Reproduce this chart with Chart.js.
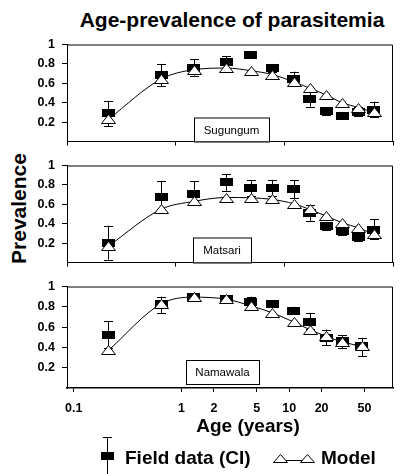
<!DOCTYPE html>
<html>
<head>
<meta charset="utf-8">
<script src="https://cdn.jsdelivr.net/npm/chart.js@4.4.1/dist/chart.umd.min.js"></script>
<style>
  body { margin: 0; background: #fff; }
  #wrap { position: relative; width: 400px; height: 474px; overflow: hidden; font-family: 'Liberation Sans', Arial, sans-serif; color: #000; }
  canvas { position: absolute; left: 0; }
  .txt { position: absolute; font-weight: bold; white-space: nowrap; }
</style>
</head>
<body>
<div id="wrap">
  <div class="txt" style="left:32px;top:9px;width:400px;text-align:center;font-size:21px;line-height:21px;">Age-prevalence of parasitemia</div>
  <div class="txt" style="left:-82px;top:198px;width:200px;height:21px;text-align:center;font-size:21px;line-height:21px;transform:rotate(-90deg);">Prevalence</div>
  <canvas id="c1" width="400" height="126" style="top:30px"></canvas>
  <canvas id="c2" width="400" height="126" style="top:151px"></canvas>
  <canvas id="c3" width="400" height="144" style="top:272px"></canvas>
  <div class="txt" style="left:48px;top:416px;width:400px;text-align:center;font-size:19px;line-height:19px;">Age (years)</div>
  <svg style="position:absolute;left:0;top:0" width="400" height="474">
    <line x1="107.5" y1="437" x2="107.5" y2="474" stroke="#000" stroke-width="1"/>
    <line x1="103" y1="437.5" x2="112" y2="437.5" stroke="#000" stroke-width="1"/>
    <rect x="101" y="452" width="13" height="8" fill="#000"/>
    <line x1="280" y1="460.5" x2="307" y2="460.5" stroke="#000" stroke-width="1"/>
    <path d="M273.5 462.5 L280.5 454.5 L287.5 462.5 Z" fill="#fff" stroke="#000" stroke-width="1"/>
    <path d="M300.5 462.5 L307.5 454.5 L314.5 462.5 Z" fill="#fff" stroke="#000" stroke-width="1"/>
  </svg>
  <div class="txt" style="left:125px;top:448px;font-size:19px;line-height:19px;">Field data (CI)</div>
  <div class="txt" style="left:321px;top:448px;font-size:19px;line-height:19px;">Model</div>
</div>
<script>
// ages of the age groups (years)
const agesSM = [0.21, 0.65, 1.3, 2.6, 4.4, 7, 11, 15.5, 22, 31, 44, 61];
const agesNam = [0.21, 0.65, 1.3, 2.6, 4.4, 7, 11, 15.5, 22, 31, 47];

// Sugungum
const sugField = [0.29, 0.69, 0.757, 0.82, 0.895, 0.757, 0.64, 0.44, 0.31, 0.264, 0.30, 0.32];
const sugLow   = [0.16, 0.57, 0.68, 0.75, 0.87, 0.72, 0.57, 0.36, 0.27, 0.23, 0.26, 0.25];
const sugHigh  = [0.42, 0.80, 0.85, 0.88, 0.92, 0.80, 0.72, 0.51, 0.34, 0.29, 0.36, 0.41];
const sugModel = [0.23, 0.645, 0.74, 0.757, 0.73, 0.69, 0.615, 0.55, 0.48, 0.40, 0.35, 0.30];

// Matsari
const matField = [0.20, 0.68, 0.71, 0.83, 0.77, 0.77, 0.76, 0.51, 0.38, 0.32, 0.26, 0.34];
const matLow   = [0.03, 0.55, 0.59, 0.74, 0.69, 0.69, 0.66, 0.43, 0.33, 0.28, 0.22, 0.24];
const matHigh  = [0.38, 0.84, 0.84, 0.91, 0.85, 0.85, 0.85, 0.59, 0.42, 0.36, 0.30, 0.45];
const matModel = [0.17, 0.55, 0.63, 0.67, 0.667, 0.65, 0.606, 0.547, 0.48, 0.41, 0.357, 0.29];

// Namawala
const namField = [0.524, 0.824, 0.90, 0.876, 0.846, 0.83, 0.76, 0.65, 0.495, 0.464, 0.41];
const namLow   = [0.39, 0.74, 0.88, 0.85, 0.80, 0.80, 0.725, 0.58, 0.42, 0.395, 0.314];
const namHigh  = [0.657, 0.90, 0.92, 0.90, 0.90, 0.86, 0.80, 0.74, 0.576, 0.52, 0.495];
const namModel = [0.371, 0.83, 0.895, 0.875, 0.81, 0.74, 0.65, 0.576, 0.51, 0.455, 0.41];

const ageTicks = [0.1, 1, 2, 5, 10, 20, 50];
const plainTicks = [0.0866, 0.883, 9.0, 92];
const yTicks = [0.2, 0.4, 0.6, 0.8, 1];

const FONT = "'Liberation Sans', Arial, sans-serif";

// field data marker
const sq = document.createElement('canvas');
sq.width = 13; sq.height = 8;
const g = sq.getContext('2d');
g.fillStyle = '#000'; g.fillRect(0, 0, 13, 8);

const errorBars = {
  id: 'errorBars',
  beforeDatasetsDraw(chart) {
    const ctx = chart.ctx, xs = chart.scales.x, ys = chart.scales.y;
    chart.data.datasets.forEach(ds => {
      if (!ds.low) return;
      ctx.save();
      ctx.strokeStyle = '#000'; ctx.lineWidth = 1;
      ds.data.forEach((p, i) => {
        const x = Math.round(xs.getPixelForValue(p.x)) + 0.5;
        const y1 = ys.getPixelForValue(ds.low[i]);
        const y2 = ys.getPixelForValue(ds.high[i]);
        ctx.beginPath();
        ctx.moveTo(x, y1); ctx.lineTo(x, y2);
        ctx.moveTo(x - 4.5, Math.round(y1) + 0.5); ctx.lineTo(x + 4.5, Math.round(y1) + 0.5);
        ctx.moveTo(x - 4.5, Math.round(y2) + 0.5); ctx.lineTo(x + 4.5, Math.round(y2) + 0.5);
        ctx.stroke();
      });
      ctx.restore();
    });
  }
};

// open triangles for the model, drawn on top of the field data
const triangles = {
  id: 'triangles',
  afterDatasetsDraw(chart) {
    const ctx = chart.ctx;
    const meta = chart.getDatasetMeta(0);
    ctx.save();
    ctx.strokeStyle = '#000'; ctx.lineWidth = 1; ctx.fillStyle = '#fff';
    meta.data.forEach(el => {
      const x = Math.round(el.x) + 0.5, y = Math.round(el.y) + 0.5;
      ctx.beginPath();
      ctx.moveTo(x - 7, y + 4); ctx.lineTo(x, y - 5); ctx.lineTo(x + 7, y + 4); ctx.closePath();
      ctx.fill(); ctx.stroke();
    });
    ctx.restore();
  }
};

const frame = {
  id: 'frame',
  afterDraw(chart, args, opts) {
    const ctx = chart.ctx, a = chart.chartArea;
    ctx.save();
    ctx.strokeStyle = '#000'; ctx.lineWidth = 1;
    ctx.beginPath();
    ctx.moveTo(a.left + 0.5, a.bottom); ctx.lineTo(a.left + 0.5, a.top + 0.5);
    ctx.lineTo(a.right - 0.5, a.top + 0.5); ctx.lineTo(a.right - 0.5, a.bottom);
    ctx.stroke();
    // site label box
    const b = opts.box;
    const x0 = a.left + b.dx, y0 = a.bottom - b.dy - b.h;
    ctx.fillStyle = '#fff';
    ctx.fillRect(x0, y0, b.w, b.h);
    ctx.strokeRect(x0 + 0.5, y0 + 0.5, b.w, b.h);
    ctx.fillStyle = '#000';
    ctx.font = '11.5px ' + FONT;
    ctx.textAlign = 'center'; ctx.textBaseline = 'middle';
    ctx.fillText(opts.name, x0 + b.w / 2, y0 + b.h / 2 + 1);
    ctx.restore();
  }
};

function pts(ages, vals) {
  return ages.map((a, i) => ({ x: a, y: vals[i] }));
}

function makePanel(id, name, ages, field, low, high, model, bottom, box) {
  new Chart(document.getElementById(id), {
    type: 'line',
    data: {
      datasets: [{
        label: 'Model',
        data: pts(ages, model),
        borderColor: '#000',
        borderWidth: 1,
        cubicInterpolationMode: 'monotone',
        pointRadius: 0
      }, {
        label: 'Field data (CI)',
        data: pts(ages, field),
        low: low,
        high: high,
        showLine: false,
        pointStyle: sq,
        pointRadius: 6
      }]
    },
    options: {
      responsive: false,
      animation: false,
      layout: { padding: { top: 5, right: 3, left: 0, bottom: 0 } },
      plugins: { legend: { display: false }, tooltip: { enabled: false }, frame: { name: name, box: box } },
      scales: {
        x: {
          type: 'logarithmic',
          min: 0.0866,
          max: 92,
          afterBuildTicks: s => { s.ticks = (bottom ? ageTicks : plainTicks).map(v => ({ value: v })); },
          afterFit: s => { s.height = bottom ? 28 : 10; },
          ticks: {
            display: bottom,
            autoSkip: false,
            maxRotation: 0,
            padding: 9,
            color: '#000',
            font: { family: FONT, size: 12.5, weight: 'bold' },
            callback: v => String(v)
          },
          grid: { drawOnChartArea: false, tickLength: 4, color: '#000' },
          border: { color: '#000', width: bottom ? 1.5 : 1 }
        },
        y: {
          min: 0,
          max: 1,
          afterBuildTicks: s => { s.ticks = yTicks.map(v => ({ value: v })); },
          afterFit: s => { s.width = 67; },
          ticks: {
            padding: 7,
            color: '#000',
            font: { family: FONT, size: 12.5, weight: 'bold' },
            callback: v => (v === 1 ? '1' : v.toFixed(1))
          },
          grid: { drawOnChartArea: false, tickLength: 5, color: '#000' },
          border: { color: '#000', width: 1 }
        }
      }
    },
    plugins: [errorBars, triangles, frame]
  });
}

makePanel('c1', 'Sugungum', agesSM, sugField, sugLow, sugHigh, sugModel, false, { dx: 127, dy: 0, w: 75, h: 24 });
makePanel('c2', 'Matsari', agesSM, matField, matLow, matHigh, matModel, false, { dx: 126, dy: 0, w: 58, h: 25 });
makePanel('c3', 'Namawala', agesNam, namField, namLow, namHigh, namModel, true, { dx: 119, dy: 4, w: 73, h: 24 });
</script>
</body>
</html>
